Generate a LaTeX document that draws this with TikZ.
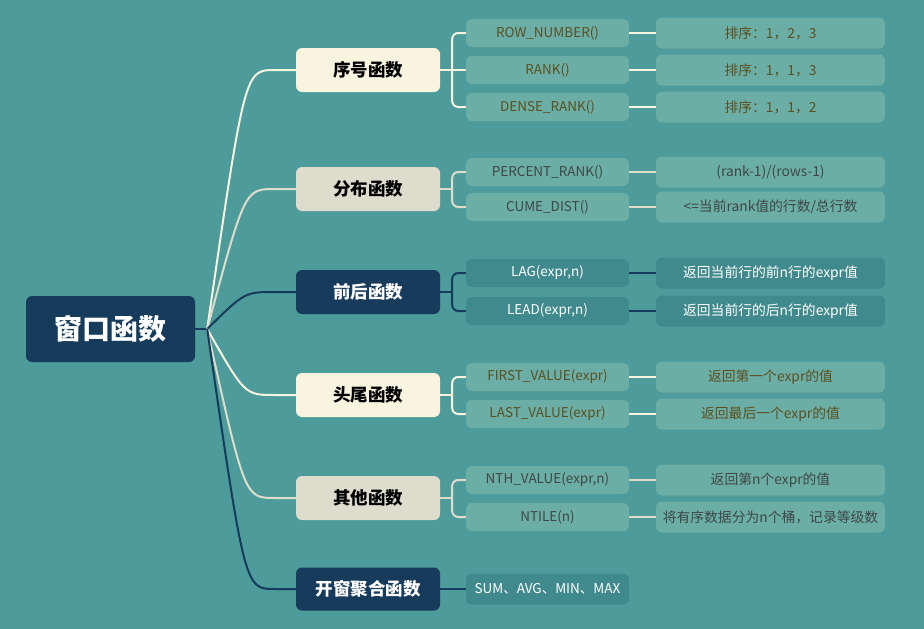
\documentclass[tikz,border=0pt]{standalone}
\usepackage{fontspec}
\setmainfont{Noto Sans CJK SC}
\usetikzlibrary{calc}
\definecolor{bgteal}{HTML}{4D9B9A}
\definecolor{navy}{HTML}{173B5B}
\definecolor{cream}{HTML}{F8F4E0}
\definecolor{sand}{HTML}{DEDCCD}
\definecolor{lightteal}{HTML}{6BAEA6}
\definecolor{deepteal}{HTML}{408A8D}
\definecolor{olive}{HTML}{5B5021}
\definecolor{slate}{HTML}{3E4745}
\begin{document}
\begin{tikzpicture}[x=1pt,y=-1pt,
  box/.style={rectangle,rounded corners=6pt,inner sep=0pt,align=center},
  rootbox/.style={box,fill=navy,text=white,minimum width=169pt,minimum height=66pt,font=\fontsize{28}{28}\selectfont\bfseries},
  topic/.style={box,minimum width=144pt,minimum height=44pt,font=\fontsize{17.5}{17.5}\selectfont\bfseries},
  func/.style={box,minimum width=163pt,minimum height=28pt,font=\fontsize{13.5}{13.5}\selectfont},
  note/.style={box,minimum width=229pt,minimum height=31pt,font=\fontsize{13.8}{13.8}\selectfont},
  creamtopic/.style={topic,fill=cream,text=black},
  sandtopic/.style={topic,fill=sand,text=black},
  navytopic/.style={topic,fill=navy,text=white},
  creambox/.style={fill=lightteal,text=olive},
  sandbox/.style={fill=lightteal,text=slate},
  navybox/.style={fill=deepteal,text=white},
  link/.style={line width=2pt}]
\def\xTopic{368}
\def\xFunc{547.5}
\def\xNote{770.5}
\useasboundingbox[fill=bgteal] (0,0) rectangle (924,629);
\path
(110.5,329) node [rootbox] (root) {窗口函数}
(\xTopic,70) node [creamtopic] (t1) {序号函数}
(\xTopic,189) node [sandtopic] (t2) {分布函数}
(\xTopic,292) node [navytopic] (t3) {前后函数}
(\xTopic,395) node [creamtopic] (t4) {头尾函数}
(\xTopic,498) node [sandtopic] (t5) {其他函数}
(\xTopic,589) node [navytopic,minimum height=43pt] (t6) {开窗聚合函数}
;
\path
(\xFunc,33) node [func,creambox] (f11) {ROW\_NUMBER()}
(\xFunc,70) node [func,creambox] (f12) {RANK()}
(\xFunc,107) node [func,creambox] (f13) {DENSE\_RANK()}
(\xFunc,172) node [func,sandbox] (f21) {PERCENT\_RANK()}
(\xFunc,207) node [func,sandbox] (f22) {CUME\_DIST()}
(\xFunc,273) node [func,navybox] (f31) {LAG(expr,n)}
(\xFunc,311) node [func,navybox] (f32) {LEAD(expr,n)}
(\xFunc,377) node [func,creambox] (f41) {FIRST\_VALUE(expr)}
(\xFunc,414) node [func,creambox] (f42) {LAST\_VALUE(expr)}
(\xFunc,480) node [func,sandbox] (f51) {NTH\_VALUE(expr,n)}
(\xFunc,517) node [func,sandbox] (f52) {NTILE(n)}
(\xFunc,589) node [func,navybox,minimum height=31pt] (f61) {SUM、AVG、MIN、MAX}
;
\path
(\xNote,33) node [note,creambox] (n11) {排序：1，2，3}
(\xNote,70) node [note,creambox] (n12) {排序：1，1，3}
(\xNote,107) node [note,creambox] (n13) {排序：1，1，2}
(\xNote,172) node [note,sandbox] (n21) {(rank-1)/(rows-1)}
(\xNote,207) node [note,sandbox] (n22) {<=当前rank值的行数/总行数}
(\xNote,273) node [note,navybox] (n31) {返回当前行的前n行的expr值}
(\xNote,311) node [note,navybox] (n32) {返回当前行的后n行的expr值}
(\xNote,377) node [note,creambox] (n41) {返回第一个expr的值}
(\xNote,414) node [note,creambox] (n42) {返回最后一个expr的值}
(\xNote,480) node [note,sandbox] (n51) {返回第n个expr的值}
(\xNote,517) node [note,sandbox] (n52) {将有序数据分为n个桶，记录等级数}
;
% root to topics
\draw[link,navy] (root.east) -- ++(12,0) coordinate (hub);
\foreach \t/\c in {t1/cream,t2/sand,t3/navy,t4/cream,t5/sand,t6/navy}
  \draw[link,\c] (hub) .. controls ($(\t.west)+(-51,0)$) and ($(\t.west)+(-51,0)$) .. ($(\t.west)+(-21,0)$) -- (\t.west);
% topics to functions
\foreach \t/\c/\fs in {t1/cream/{f11,f13},t2/sand/{f21,f22},t3/navy/{f31,f32},t4/cream/{f41,f42},t5/sand/{f51,f52}}{
  \draw[link,\c] (\t.east) -- ++(12,0) coordinate (j);
  \foreach \f in \fs
    \draw[link,\c,rounded corners=6pt] (j) |- (\f.west);
}
\draw[link,cream] (t1.east) -- (f12.west);
\draw[link,navy] (t6.east) -- (f61.west);
% functions to notes
\foreach \f/\n/\c in {f11/n11/cream,f12/n12/cream,f13/n13/cream,f21/n21/sand,f22/n22/sand,f31/n31/navy,f32/n32/navy,f41/n41/cream,f42/n42/cream,f51/n51/sand,f52/n52/sand}
  \draw[link,\c] (\f.east) -- (\n.west);
\end{tikzpicture}
\end{document}
